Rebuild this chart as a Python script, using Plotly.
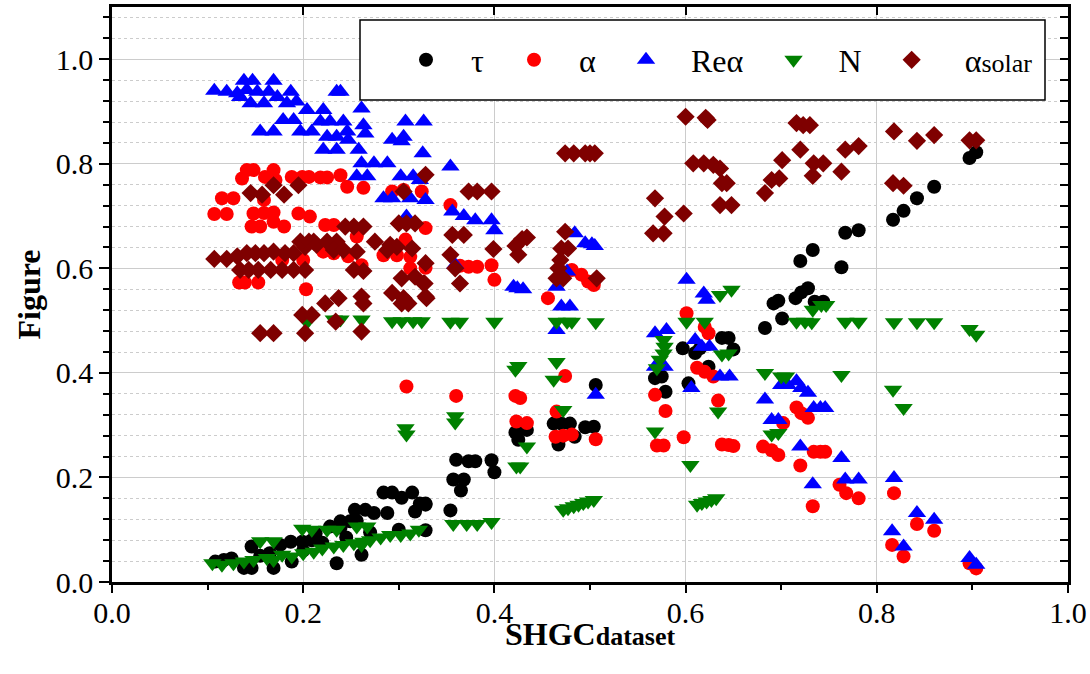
import plotly.graph_objects as go

# ---------------- data ----------------
tau_x = [0.108, 0.117, 0.125, 0.138, 0.146, 0.155, 0.165, 0.169, 0.146, 0.176, 0.187, 0.188, 0.199, 0.200,
         0.209, 0.213, 0.220, 0.228, 0.239, 0.249, 0.235, 0.245, 0.261, 0.254, 0.265, 0.270, 0.274, 0.288,
         0.284, 0.293, 0.300, 0.303, 0.314, 0.317, 0.328, 0.328, 0.239, 0.256,
         0.360, 0.373, 0.380, 0.397, 0.400, 0.357, 0.368, 0.365, 0.328, 0.322, 0.354, 0.422, 0.425, 0.430,
         0.434, 0.462, 0.470, 0.479, 0.467, 0.484, 0.495, 0.504, 0.506, 0.568, 0.575, 0.579, 0.597, 0.610,
         0.615, 0.638, 0.645, 0.650, 0.603, 0.624,
         0.683, 0.692, 0.697, 0.701, 0.715, 0.721, 0.728, 0.720, 0.733, 0.735, 0.744, 0.763, 0.767, 0.781,
         0.817, 0.828, 0.842, 0.860, 0.897, 0.904]
tau_y = [0.039, 0.042, 0.045, 0.027, 0.027, 0.050, 0.055, 0.027, 0.068, 0.071, 0.077, 0.039, 0.077, 0.060,
         0.080, 0.093, 0.075, 0.106, 0.116, 0.116, 0.036, 0.085, 0.052, 0.138, 0.138, 0.095, 0.132, 0.132,
         0.171, 0.171, 0.100, 0.161, 0.171, 0.135, 0.148, 0.099, 0.104, 0.117,
         0.234, 0.231, 0.231, 0.233, 0.210, 0.196, 0.196, 0.175, 0.150, 0.150, 0.137, 0.286, 0.272, 0.297,
         0.291, 0.303, 0.303, 0.303, 0.263, 0.278, 0.296, 0.297, 0.377, 0.390, 0.393, 0.364, 0.447, 0.438,
         0.447, 0.467, 0.467, 0.445, 0.380, 0.412,
         0.486, 0.533, 0.538, 0.504, 0.543, 0.554, 0.562, 0.614, 0.635, 0.536, 0.536, 0.602, 0.668, 0.673,
         0.693, 0.710, 0.734, 0.756, 0.811, 0.822]

alpha_x = [0.141, 0.148, 0.169, 0.136, 0.160, 0.171, 0.188, 0.199, 0.206, 0.218, 0.225, 0.239, 0.246, 0.263,
           0.115, 0.127, 0.159, 0.107, 0.120, 0.148, 0.159, 0.169, 0.195, 0.207, 0.146, 0.155, 0.169, 0.180,
           0.223, 0.232, 0.256, 0.221, 0.232, 0.247, 0.178, 0.200, 0.133, 0.139, 0.153, 0.203, 0.261, 0.293,
           0.305, 0.324, 0.307, 0.284, 0.298, 0.312, 0.312, 0.328,
           0.354, 0.328, 0.364, 0.373, 0.382, 0.397, 0.400, 0.456, 0.481, 0.491, 0.498, 0.504, 0.601,
           0.308, 0.360, 0.422, 0.427, 0.423, 0.434, 0.474, 0.465, 0.464, 0.472, 0.481, 0.506, 0.620, 0.624,
           0.612, 0.620, 0.629, 0.568, 0.579, 0.570, 0.577, 0.598, 0.634, 0.638, 0.645, 0.650,
           0.681, 0.690, 0.697, 0.702, 0.716, 0.721, 0.728, 0.720, 0.734, 0.741, 0.746, 0.733, 0.761, 0.768,
           0.781, 0.818, 0.842, 0.860, 0.816, 0.828, 0.897, 0.904]
alpha_y = [0.788, 0.788, 0.788, 0.772, 0.775, 0.769, 0.775, 0.775, 0.775, 0.774, 0.774, 0.778, 0.756, 0.754,
           0.734, 0.734, 0.731, 0.704, 0.704, 0.705, 0.706, 0.707, 0.705, 0.699, 0.680, 0.680, 0.689, 0.680,
           0.683, 0.683, 0.661, 0.632, 0.629, 0.623, 0.616, 0.616, 0.573, 0.573, 0.573, 0.560, 0.606, 0.747,
           0.750, 0.747, 0.655, 0.625, 0.625, 0.622, 0.600, 0.677,
           0.721, 0.601, 0.605, 0.603, 0.603, 0.606, 0.578, 0.543, 0.597, 0.588, 0.575, 0.568, 0.514,
           0.374, 0.356, 0.356, 0.352, 0.307, 0.304, 0.394, 0.326, 0.278, 0.280, 0.282, 0.273, 0.488, 0.476,
           0.410, 0.402, 0.393, 0.358, 0.327, 0.261, 0.261, 0.277, 0.347, 0.263, 0.262, 0.260,
           0.259, 0.252, 0.243, 0.304, 0.334, 0.323, 0.314, 0.223, 0.249, 0.249, 0.249, 0.145, 0.186, 0.170,
           0.160, 0.170, 0.111, 0.098, 0.071, 0.049, 0.036, 0.026]

rea_x = [0.107, 0.120, 0.131, 0.138, 0.147, 0.141, 0.152, 0.134, 0.145, 0.159, 0.169, 0.164, 0.173, 0.187,
         0.183, 0.193, 0.179, 0.190, 0.204, 0.197, 0.209, 0.221, 0.218, 0.228, 0.235, 0.239, 0.242, 0.225,
         0.235, 0.246, 0.247, 0.221, 0.235, 0.258, 0.261, 0.263, 0.265, 0.155, 0.169, 0.261, 0.274, 0.288,
         0.256, 0.267, 0.302, 0.315, 0.322, 0.284, 0.293, 0.312, 0.328, 0.307, 0.326, 0.293, 0.305, 0.303,
         0.325, 0.308,
         0.354, 0.356, 0.368, 0.380, 0.397, 0.400, 0.359, 0.420, 0.424, 0.430, 0.476, 0.465, 0.470, 0.479,
         0.484, 0.495, 0.502, 0.505, 0.601, 0.619, 0.622,
         0.465, 0.568, 0.580, 0.568, 0.578, 0.610, 0.617, 0.625, 0.636, 0.646, 0.606, 0.506,
         0.716, 0.700, 0.707, 0.721, 0.728, 0.683, 0.734, 0.741, 0.746, 0.690, 0.697, 0.720, 0.763, 0.733,
         0.767, 0.781, 0.818, 0.842, 0.860, 0.816, 0.828, 0.897, 0.904]
rea_y = [0.940, 0.938, 0.935, 0.959, 0.959, 0.941, 0.938, 0.928, 0.916, 0.916, 0.959, 0.938, 0.928, 0.938,
         0.916, 0.919, 0.884, 0.884, 0.903, 0.862, 0.862, 0.903, 0.881, 0.881, 0.938, 0.938, 0.881, 0.852,
         0.852, 0.862, 0.846, 0.827, 0.827, 0.827, 0.906, 0.874, 0.858, 0.862, 0.862, 0.801, 0.801, 0.801,
         0.776, 0.776, 0.776, 0.776, 0.769, 0.734, 0.734, 0.734, 0.731, 0.881, 0.881, 0.846, 0.852, 0.843,
         0.820, 0.699,
         0.795, 0.709, 0.700, 0.692, 0.692, 0.673, 0.607, 0.565, 0.562, 0.560, 0.594, 0.565, 0.527, 0.527,
         0.667, 0.648, 0.646, 0.643, 0.578, 0.552, 0.540,
         0.482, 0.476, 0.482, 0.412, 0.412, 0.463, 0.450, 0.450, 0.393, 0.393, 0.371, 0.358,
         0.384, 0.377, 0.377, 0.371, 0.362, 0.349, 0.333, 0.333, 0.333, 0.310, 0.310, 0.259, 0.237, 0.187,
         0.196, 0.196, 0.199, 0.132, 0.119, 0.097, 0.068, 0.046, 0.033]

n_x = [0.105, 0.115, 0.127, 0.138, 0.148, 0.162, 0.169, 0.178, 0.188, 0.200, 0.211, 0.220, 0.232, 0.242,
       0.253, 0.263, 0.270, 0.281, 0.291, 0.302, 0.312, 0.321,
       0.155, 0.169, 0.199, 0.209, 0.225, 0.235, 0.256, 0.267, 0.261, 0.307, 0.308,
       0.204, 0.232, 0.239, 0.261, 0.293, 0.303, 0.315, 0.324, 0.354, 0.364, 0.400, 0.465, 0.476, 0.481,
       0.506, 0.601, 0.620, 0.716, 0.725, 0.732, 0.767, 0.781, 0.818, 0.842, 0.860, 0.897, 0.904,
       0.425, 0.422, 0.465, 0.462, 0.359, 0.359, 0.472, 0.434, 0.423, 0.427, 0.357, 0.371, 0.382, 0.397,
       0.472, 0.477, 0.483, 0.488, 0.493, 0.498, 0.504, 0.568, 0.577, 0.578, 0.577, 0.573, 0.570, 0.605,
       0.638, 0.645, 0.634, 0.612, 0.617, 0.622, 0.627, 0.632, 0.636, 0.648, 0.733, 0.742, 0.747, 0.683,
       0.700, 0.705, 0.763, 0.817, 0.828, 0.690, 0.697]
n_y = [0.036, 0.033, 0.036, 0.039, 0.042, 0.046, 0.042, 0.052, 0.049, 0.055, 0.058, 0.064, 0.068, 0.071,
       0.074, 0.077, 0.080, 0.085, 0.090, 0.090, 0.093, 0.100,
       0.078, 0.078, 0.102, 0.100, 0.100, 0.100, 0.106, 0.106, 0.071, 0.294, 0.282,
       0.497, 0.502, 0.502, 0.502, 0.499, 0.499, 0.499, 0.499, 0.498, 0.498, 0.498, 0.498, 0.498, 0.498,
       0.497, 0.498, 0.498, 0.498, 0.498, 0.497, 0.498, 0.498, 0.497, 0.497, 0.497, 0.484, 0.473,
       0.413, 0.406, 0.421, 0.387, 0.317, 0.305, 0.329, 0.259, 0.221, 0.221, 0.111, 0.111, 0.111, 0.115,
       0.138, 0.141, 0.145, 0.148, 0.151, 0.154, 0.157, 0.288, 0.463, 0.450, 0.437, 0.425, 0.409, 0.224,
       0.435, 0.437, 0.326, 0.148, 0.151, 0.154, 0.157, 0.160, 0.549, 0.559, 0.521, 0.530, 0.530, 0.400,
       0.393, 0.393, 0.396, 0.368, 0.333, 0.282, 0.285]

sol_x = [0.107, 0.120, 0.131, 0.141, 0.150, 0.159, 0.169, 0.181, 0.190, 0.202, 0.211, 0.134, 0.143, 0.153,
         0.166, 0.178, 0.190, 0.202, 0.145, 0.157, 0.169, 0.180, 0.195, 0.197, 0.206, 0.214, 0.225, 0.235,
         0.244, 0.253, 0.263, 0.232, 0.242, 0.256, 0.275, 0.291, 0.298, 0.253, 0.263, 0.303, 0.317, 0.326,
         0.293, 0.305, 0.328, 0.223, 0.237, 0.261, 0.263, 0.300, 0.308, 0.317, 0.305, 0.328, 0.314, 0.288,
         0.155, 0.169, 0.202, 0.199, 0.209, 0.234, 0.261, 0.303, 0.310,
         0.373, 0.382, 0.397, 0.356, 0.368, 0.354, 0.328, 0.327, 0.329, 0.359, 0.364, 0.399, 0.422, 0.429,
         0.434, 0.425, 0.474, 0.477, 0.470, 0.469, 0.467, 0.465, 0.472, 0.507, 0.474, 0.483, 0.495, 0.500,
         0.505, 0.568, 0.578, 0.598, 0.566, 0.577, 0.608, 0.619, 0.629, 0.636, 0.638, 0.643, 0.636, 0.648,
         0.600, 0.621, 0.623,
         0.716, 0.723, 0.730, 0.683, 0.690, 0.698, 0.701, 0.720, 0.734, 0.744, 0.733, 0.763, 0.767, 0.781,
         0.818, 0.842, 0.860, 0.817, 0.828, 0.897, 0.904]
sol_y = [0.618, 0.618, 0.623, 0.629, 0.629, 0.629, 0.632, 0.629, 0.629, 0.641, 0.651, 0.597, 0.597, 0.597,
         0.597, 0.597, 0.597, 0.597, 0.744, 0.741, 0.759, 0.741, 0.759, 0.651, 0.651, 0.645, 0.651, 0.651,
         0.680, 0.680, 0.680, 0.635, 0.635, 0.632, 0.651, 0.645, 0.641, 0.597, 0.595, 0.581, 0.584, 0.571,
         0.553, 0.543, 0.546, 0.533, 0.543, 0.546, 0.533, 0.686, 0.686, 0.686, 0.747, 0.779, 0.638, 0.635,
         0.476, 0.476, 0.476, 0.511, 0.511, 0.498, 0.479, 0.533, 0.533,
         0.747, 0.747, 0.747, 0.664, 0.664, 0.626, 0.610, 0.571, 0.543, 0.600, 0.571, 0.637, 0.643, 0.656,
         0.659, 0.626, 0.670, 0.638, 0.638, 0.616, 0.600, 0.581, 0.581, 0.581, 0.820, 0.820, 0.820, 0.820,
         0.820, 0.734, 0.699, 0.705, 0.667, 0.667, 0.801, 0.801, 0.798, 0.791, 0.763, 0.763, 0.721, 0.721,
         0.890, 0.888, 0.884,
         0.878, 0.874, 0.874, 0.744, 0.769, 0.772, 0.807, 0.827, 0.801, 0.801, 0.777, 0.785, 0.827, 0.834,
         0.862, 0.844, 0.855, 0.763, 0.758, 0.845, 0.845]

series_names = ["τ", "α", "Reα", "N", "\u00a0α<span style='font-size:26px'>solar</span>"]
series_colors = ["#000000", "#ff0000", "#0000ff", "#008000", "#7f0000"]
series_symbols = ["circle", "circle", "triangle-up", "triangle-down", "diamond"]
series_sizes = [14, 14, 16, 16, 14]
series_x = [tau_x, alpha_x, rea_x, n_x, sol_x]
series_y = [tau_y, alpha_y, rea_y, n_y, sol_y]

FONT = "Liberation Serif"

# plot area in pixels
W, H = 1090, 674
L, R, T, B = 112, 22, 7, 92
pw, ph = W - L - R, H - T - B


def px2paper_x(px):
    return (px - L) / pw


def px2paper_y(py):
    return (H - B - py) / ph


fig = go.Figure()
for name, col, sym, sz, xs, ys in zip(series_names, series_colors, series_symbols,
                                      series_sizes, series_x, series_y):
    fig.add_trace(go.Scatter(
        x=xs, y=ys, mode="markers", name=name,
        marker=dict(color=col, symbol=sym, size=sz, line=dict(width=0)),
    ))

# helper trace so the mirrored (top/right) axes exist
fig.add_trace(go.Scatter(x=[None], y=[None], xaxis="x2", yaxis="y2",
                         showlegend=False, hoverinfo="skip"))

tickfont = dict(family=FONT, size=30, color="black")
gridc = "#cccccc"

fig.update_layout(
    width=W, height=H,
    margin=dict(l=L, r=R, t=T, b=B, autoexpand=False),
    paper_bgcolor="white", plot_bgcolor="white",
    font=dict(family=FONT, color="black"),
    xaxis=dict(
        range=[0, 1], tick0=0, dtick=0.2, tickformat=".1f",
        ticks="outside", ticklen=8, tickwidth=2, tickcolor="black",
        tickfont=tickfont, ticklabelstandoff=-6,
        showline=True, linewidth=2.5, linecolor="black",
        showgrid=True, gridcolor=gridc, gridwidth=1, zeroline=False,
        minor=dict(dtick=0.1, ticks="outside", ticklen=5, tickwidth=2, tickcolor="black", showgrid=False),
    ),
    yaxis=dict(
        range=[0, 1.1], tick0=0, dtick=0.2, tickformat=".1f",
        ticks="outside", ticklen=10, tickwidth=2, tickcolor="black",
        tickfont=tickfont,
        showline=True, linewidth=2.5, linecolor="black",
        showgrid=True, gridcolor=gridc, gridwidth=1, zeroline=False,
        minor=dict(dtick=0.04, ticks="outside", ticklen=6, tickwidth=2, tickcolor="black",
                   showgrid=True, gridcolor=gridc, gridwidth=1, griddash="dot"),
        title=dict(text="<b>Figure</b>", font=dict(family=FONT, size=32, color="black"), standoff=6),
    ),
    xaxis2=dict(
        overlaying="x", side="top", anchor="y", range=[0, 1], tick0=0, dtick=0.2,
        ticks="inside", ticklen=8, tickwidth=2, tickcolor="black", showticklabels=False,
        showline=True, linewidth=2.5, linecolor="black", showgrid=False, zeroline=False,
    ),
    yaxis2=dict(
        overlaying="y", side="right", anchor="x", range=[0, 1.1], tick0=0, dtick=0.2,
        ticks="inside", ticklen=8, tickwidth=2, tickcolor="black", showticklabels=False,
        showline=True, linewidth=2.5, linecolor="black", showgrid=False, zeroline=False,
        minor=dict(dtick=0.04, ticks="inside", ticklen=8, tickwidth=2, tickcolor="black", showgrid=False),
    ),
    showlegend=True,
    legend=dict(
        orientation="h", x=px2paper_x(381), xanchor="left",
        y=px2paper_y(60), yanchor="middle",
        bgcolor="rgba(0,0,0,0)", borderwidth=0,
        font=dict(family=FONT, size=32, color="black"),
        itemwidth=80, tracegroupgap=0,
    ),
    shapes=[dict(
        type="rect", xref="paper", yref="paper",
        x0=px2paper_x(360), x1=px2paper_x(1045), y0=px2paper_y(100), y1=px2paper_y(20),
        line=dict(color="black", width=1.5), fillcolor="white", layer="above",
    )],
    annotations=[dict(
        text="<b>SHGC<span style='font-size:26px'>dataset</span></b>",
        xref="paper", yref="paper", x=0.5, y=px2paper_y(634), xanchor="center", yanchor="middle",
        showarrow=False, font=dict(family=FONT, size=32, color="black"),
    )],
)

fig.write_html("out.html")
